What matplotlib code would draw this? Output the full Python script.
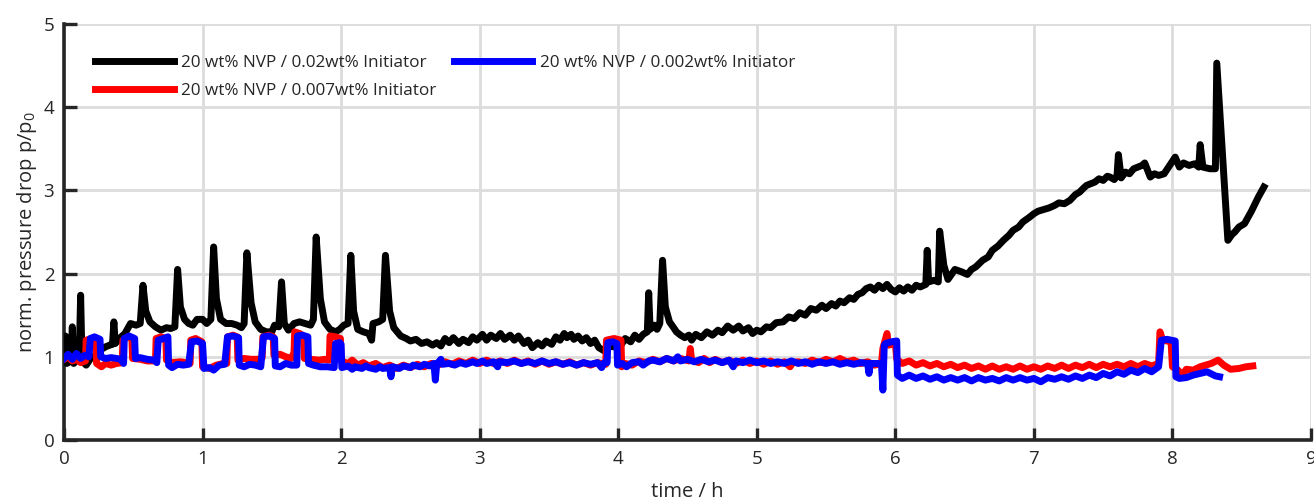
import matplotlib
matplotlib.use("Agg")
import matplotlib.pyplot as plt

plt.rcParams['font.family'] = ['Open Sans', 'DejaVu Sans']
plt.rcParams['mathtext.default'] = 'regular'

# ---------------- data ----------------
black_t = [0.00, 0.01, 0.02, 0.05, 0.06, 0.07, 0.09, 0.11, 0.12, 0.13, 0.16, 0.20, 0.24, 0.26, 0.30,
           0.33, 0.35, 0.36, 0.37, 0.40, 0.44, 0.48, 0.52, 0.55, 0.57, 0.59, 0.62, 0.66, 0.70, 0.74,
           0.77, 0.80, 0.82, 0.84, 0.87, 0.90, 0.93, 0.96, 1.00, 1.03, 1.06, 1.08, 1.10, 1.13, 1.17,
           1.21, 1.25, 1.28, 1.30, 1.32, 1.35, 1.38, 1.42, 1.46, 1.50, 1.52, 1.55, 1.57, 1.59, 1.62,
           1.66, 1.70, 1.74, 1.78, 1.80, 1.82, 1.85, 1.88, 1.92, 1.96, 1.99, 2.02, 2.05, 2.07, 2.09,
           2.12, 2.16, 2.20, 2.22, 2.23, 2.27, 2.30, 2.32, 2.35, 2.38, 2.43, 2.47, 2.50, 2.54, 2.58,
           2.62, 2.66, 2.69, 2.72, 2.75, 2.78, 2.81, 2.85, 2.88, 2.92, 2.95, 2.98, 3.02, 3.05, 3.08,
           3.12, 3.15, 3.18, 3.22, 3.25, 3.28, 3.32, 3.35, 3.38, 3.42, 3.45, 3.48, 3.52, 3.55, 3.58,
           3.61, 3.63, 3.66, 3.68, 3.71, 3.74, 3.77, 3.80, 3.83, 3.86, 3.90, 3.93, 3.96, 3.98, 4.02,
           4.05, 4.09, 4.12, 4.15, 4.18, 4.21, 4.22, 4.23, 4.26, 4.28, 4.30, 4.32, 4.34, 4.37, 4.40,
           4.42, 4.45, 4.48, 4.51, 4.53, 4.56, 4.60, 4.64, 4.68, 4.72, 4.75, 4.79, 4.83, 4.87, 4.90,
           4.94, 4.97, 5.00, 5.03, 5.07, 5.10, 5.14, 5.19, 5.23, 5.27, 5.31, 5.35, 5.39, 5.43, 5.47,
           5.50, 5.54, 5.57, 5.60, 5.63, 5.67, 5.70, 5.73, 5.76, 5.79, 5.82, 5.85, 5.88, 5.91, 5.94,
           5.97, 6.00, 6.03, 6.06, 6.09, 6.12, 6.15, 6.18, 6.22, 6.23, 6.24, 6.28, 6.31, 6.32, 6.35,
           6.38, 6.43, 6.48, 6.52, 6.55, 6.58, 6.63, 6.67, 6.70, 6.74, 6.78, 6.82, 6.85, 6.89, 6.92,
           6.97, 7.00, 7.03, 7.07, 7.11, 7.15, 7.18, 7.22, 7.26, 7.30, 7.33, 7.36, 7.38, 7.41, 7.44,
           7.47, 7.50, 7.53, 7.55, 7.58, 7.60, 7.61, 7.63, 7.66, 7.69, 7.72, 7.75, 7.78, 7.80, 7.84,
           7.87, 7.90, 7.94, 7.98, 8.02, 8.05, 8.08, 8.12, 8.16, 8.19, 8.20, 8.22, 8.27, 8.31, 8.32,
           8.40, 8.43, 8.45, 8.48, 8.52, 8.57, 8.62, 8.66]
black_v = [0.95, 1.25, 0.92, 0.95, 1.36, 0.92, 0.96, 1.00, 1.74, 0.95, 0.90, 1.00, 1.02, 1.08, 1.12,
           1.14, 1.15, 1.42, 1.16, 1.22, 1.28, 1.40, 1.38, 1.40, 1.86, 1.55, 1.42, 1.36, 1.32, 1.35,
           1.34, 1.36, 2.05, 1.60, 1.45, 1.40, 1.38, 1.45, 1.45, 1.40, 1.45, 2.32, 1.70, 1.45, 1.40,
           1.40, 1.38, 1.35, 1.40, 2.25, 1.65, 1.42, 1.33, 1.30, 1.30, 1.38, 1.36, 1.90, 1.40, 1.32,
           1.40, 1.42, 1.40, 1.38, 1.45, 2.44, 1.70, 1.42, 1.33, 1.30, 1.33, 1.38, 1.40, 2.22, 1.55,
           1.33, 1.30, 1.28, 1.20, 1.40, 1.42, 1.45, 2.22, 1.55, 1.35, 1.25, 1.22, 1.19, 1.21, 1.16,
           1.18, 1.14, 1.17, 1.13, 1.22, 1.17, 1.23, 1.16, 1.21, 1.17, 1.24, 1.20, 1.27, 1.20, 1.26,
           1.22, 1.28, 1.21, 1.26, 1.20, 1.25, 1.16, 1.20, 1.11, 1.17, 1.13, 1.19, 1.15, 1.24, 1.20,
           1.28, 1.23, 1.27, 1.21, 1.25, 1.19, 1.23, 1.16, 1.20, 1.11, 1.07, 1.16, 1.12, 1.17, 1.14,
           1.22, 1.18, 1.26, 1.21, 1.27, 1.30, 1.77, 1.33, 1.38, 1.33, 1.40, 2.16, 1.60, 1.42, 1.35,
           1.30, 1.26, 1.23, 1.26, 1.20, 1.27, 1.23, 1.30, 1.26, 1.32, 1.29, 1.37, 1.32, 1.37, 1.31,
           1.35, 1.28, 1.32, 1.30, 1.36, 1.35, 1.41, 1.42, 1.48, 1.46, 1.53, 1.50, 1.58, 1.56, 1.62,
           1.58, 1.64, 1.61, 1.67, 1.65, 1.71, 1.69, 1.75, 1.77, 1.82, 1.84, 1.80, 1.86, 1.82, 1.87,
           1.81, 1.78, 1.83, 1.79, 1.84, 1.80, 1.86, 1.84, 1.87, 2.28, 1.90, 1.92, 1.90, 2.51, 2.10,
           1.93, 2.05, 2.02, 1.99, 2.05, 2.08, 2.16, 2.20, 2.28, 2.33, 2.40, 2.46, 2.52, 2.56, 2.62,
           2.68, 2.72, 2.75, 2.77, 2.79, 2.82, 2.85, 2.84, 2.88, 2.95, 2.98, 3.03, 3.06, 3.08, 3.10,
           3.14, 3.12, 3.17, 3.16, 3.13, 3.18, 3.43, 3.15, 3.22, 3.20, 3.26, 3.28, 3.30, 3.33, 3.16,
           3.20, 3.18, 3.20, 3.30, 3.40, 3.28, 3.33, 3.30, 3.32, 3.28, 3.55, 3.28, 3.26, 3.26, 4.53,
           2.40, 2.47, 2.50, 2.56, 2.60, 2.75, 2.92, 3.04]

# (time, value) pairs
red_pts = [(0.00, 0.97), (0.03, 1.00), (0.06, 0.95), (0.09, 0.97), (0.12, 0.93), (0.155, 0.95),
           (0.16, 1.20), (0.20, 1.22), (0.23, 1.20), (0.235, 0.92), (0.27, 0.88), (0.30, 0.92),
           (0.34, 0.90), (0.38, 0.92), (0.42, 0.93), (0.425, 1.20), (0.46, 1.24), (0.49, 1.22),
           (0.495, 0.98), (0.55, 0.97), (0.60, 0.95), (0.66, 0.95), (0.665, 1.22), (0.70, 1.24),
           (0.735, 1.22), (0.74, 0.96), (0.78, 0.93), (0.84, 0.94), (0.88, 0.93), (0.91, 0.92),
           (0.915, 1.20), (0.95, 1.22), (0.995, 1.18), (1.00, 0.88), (1.05, 0.86), (1.10, 0.90),
           (1.15, 0.92), (1.175, 0.92), (1.18, 1.24), (1.22, 1.26), (1.25, 1.24), (1.255, 0.96),
           (1.30, 0.98), (1.35, 0.97), (1.40, 0.97), (1.43, 0.99), (1.435, 1.24), (1.48, 1.26),
           (1.51, 1.24), (1.515, 1.02), (1.56, 1.03), (1.60, 1.00), (1.64, 0.98), (1.66, 1.05),
           (1.665, 1.30), (1.70, 1.28), (1.73, 1.25), (1.735, 0.98), (1.78, 0.97), (1.84, 0.96),
           (1.88, 0.97), (1.915, 0.96), (1.92, 1.25), (1.96, 1.24), (1.995, 1.22), (2.00, 0.95),
           (2.05, 0.92), (2.08, 0.96), (2.12, 0.90), (2.16, 0.93), (2.20, 0.89), (2.25, 0.92),
           (2.30, 0.87), (2.35, 0.90), (2.40, 0.86), (2.45, 0.90), (2.50, 0.87), (2.55, 0.91),
           (2.60, 0.88), (2.65, 0.92), (2.70, 0.90), (2.75, 0.94), (2.80, 0.91), (2.85, 0.95),
           (2.90, 0.92), (2.95, 0.96), (3.00, 0.92), (3.05, 0.96), (3.10, 0.92), (3.15, 0.95),
           (3.20, 0.92), (3.25, 0.96), (3.30, 0.92), (3.35, 0.95), (3.40, 0.91), (3.45, 0.95),
           (3.50, 0.91), (3.55, 0.94), (3.60, 0.91), (3.65, 0.94), (3.70, 0.90), (3.75, 0.93),
           (3.80, 0.90), (3.85, 0.93), (3.91, 0.91), (3.915, 1.20), (3.97, 1.22), (4.02, 1.20),
           (4.025, 0.88), (4.05, 0.92), (4.10, 0.90), (4.15, 0.95), (4.20, 0.93), (4.25, 0.97),
           (4.30, 0.94), (4.35, 0.98), (4.40, 0.95), (4.45, 0.98), (4.51, 0.95), (4.52, 1.10),
           (4.53, 0.96), (4.58, 0.93), (4.62, 0.98), (4.66, 0.93), (4.70, 0.97), (4.75, 0.93),
           (4.80, 0.96), (4.85, 0.92), (4.90, 0.96), (4.95, 0.92), (5.00, 0.95), (5.05, 0.91),
           (5.10, 0.95), (5.15, 0.91), (5.20, 0.94), (5.24, 0.88), (5.26, 0.93), (5.30, 0.94),
           (5.35, 0.92), (5.40, 0.96), (5.45, 0.93), (5.50, 0.97), (5.55, 0.94), (5.60, 0.98),
           (5.65, 0.94), (5.70, 0.96), (5.75, 0.92), (5.80, 0.94), (5.85, 0.90), (5.90, 0.92),
           (5.91, 1.10), (5.94, 1.28), (5.95, 1.14), (6.00, 1.16), (6.01, 0.97), (6.05, 0.92),
           (6.10, 0.95), (6.15, 0.90), (6.20, 0.93), (6.25, 0.89), (6.30, 0.92), (6.35, 0.88),
           (6.40, 0.91), (6.45, 0.87), (6.50, 0.90), (6.55, 0.86), (6.60, 0.89), (6.65, 0.85),
           (6.70, 0.89), (6.75, 0.85), (6.80, 0.88), (6.85, 0.85), (6.90, 0.89), (6.95, 0.85),
           (7.00, 0.88), (7.05, 0.85), (7.10, 0.89), (7.15, 0.86), (7.20, 0.90), (7.25, 0.86),
           (7.30, 0.90), (7.35, 0.87), (7.40, 0.91), (7.45, 0.87), (7.50, 0.91), (7.55, 0.88),
           (7.60, 0.91), (7.65, 0.88), (7.70, 0.92), (7.75, 0.88), (7.80, 0.92), (7.85, 0.89),
           (7.90, 0.92), (7.91, 1.30), (7.93, 1.20), (7.99, 1.18), (8.00, 0.88), (8.04, 0.84),
           (8.07, 0.78), (8.10, 0.85), (8.15, 0.84), (8.20, 0.88), (8.28, 0.92), (8.33, 0.96),
           (8.37, 0.90), (8.42, 0.85), (8.48, 0.86), (8.53, 0.88), (8.58, 0.89)]

blue_pts = [(0.00, 0.98), (0.03, 1.03), (0.06, 0.97), (0.09, 1.04), (0.12, 0.98), (0.15, 1.02),
            (0.18, 1.00), (0.19, 1.22), (0.22, 1.24), (0.26, 1.21), (0.265, 1.00), (0.30, 0.98),
            (0.34, 0.99), (0.38, 0.98), (0.41, 0.97), (0.43, 0.92), (0.435, 1.22), (0.47, 1.25),
            (0.51, 1.22), (0.515, 0.98), (0.55, 0.99), (0.60, 0.97), (0.65, 0.96), (0.67, 0.93),
            (0.68, 1.20), (0.72, 1.22), (0.75, 1.24), (0.755, 0.90), (0.78, 0.87), (0.82, 0.91),
            (0.86, 0.90), (0.90, 0.91), (0.92, 1.18), (0.96, 1.19), (1.00, 1.16), (1.01, 0.86),
            (1.05, 0.87), (1.08, 0.84), (1.12, 0.90), (1.16, 0.91), (1.18, 1.24), (1.22, 1.25),
            (1.26, 1.23), (1.265, 0.90), (1.30, 0.88), (1.34, 0.91), (1.38, 0.90), (1.42, 0.88),
            (1.44, 1.24), (1.48, 1.25), (1.52, 1.22), (1.525, 0.89), (1.56, 0.88), (1.60, 0.92),
            (1.64, 0.90), (1.68, 0.90), (1.685, 1.25), (1.72, 1.26), (1.76, 1.24), (1.765, 0.92),
            (1.80, 0.90), (1.85, 0.88), (1.90, 0.88), (1.95, 0.87), (1.96, 1.16), (1.99, 1.17),
            (2.00, 1.15), (2.005, 0.87), (2.05, 0.89), (2.08, 0.85), (2.10, 0.88), (2.15, 0.86),
            (2.18, 0.89), (2.20, 0.87), (2.25, 0.85), (2.28, 0.88), (2.30, 0.86), (2.35, 0.87),
            (2.36, 0.76), (2.37, 0.88), (2.42, 0.86), (2.45, 0.89), (2.50, 0.87), (2.52, 0.90),
            (2.57, 0.88), (2.60, 0.91), (2.64, 0.89), (2.67, 0.92), (2.68, 0.72), (2.69, 0.91),
            (2.72, 0.97), (2.73, 0.91), (2.78, 0.92), (2.82, 0.90), (2.86, 0.93), (2.90, 0.91),
            (2.95, 0.94), (2.98, 0.92), (3.02, 0.95), (3.05, 0.92), (3.10, 0.94), (3.13, 0.88),
            (3.14, 0.94), (3.20, 0.93), (3.25, 0.95), (3.30, 0.92), (3.35, 0.94), (3.40, 0.92),
            (3.45, 0.95), (3.50, 0.92), (3.55, 0.94), (3.60, 0.91), (3.65, 0.93), (3.70, 0.90),
            (3.75, 0.93), (3.80, 0.91), (3.85, 0.93), (3.88, 0.87), (3.90, 0.93), (3.92, 0.93),
            (3.925, 1.17), (3.96, 1.18), (3.99, 1.16), (3.995, 0.90), (4.03, 0.92), (4.06, 0.88),
            (4.10, 0.93), (4.15, 0.94), (4.18, 0.90), (4.22, 0.95), (4.25, 0.96), (4.30, 0.94),
            (4.35, 0.98), (4.40, 0.95), (4.43, 1.00), (4.45, 0.95), (4.50, 0.97), (4.55, 0.94),
            (4.60, 0.97), (4.65, 0.94), (4.70, 0.96), (4.75, 0.93), (4.80, 0.96), (4.83, 0.88),
            (4.85, 0.95), (4.90, 0.93), (4.95, 0.96), (5.00, 0.93), (5.05, 0.95), (5.10, 0.92),
            (5.15, 0.94), (5.20, 0.92), (5.25, 0.95), (5.30, 0.92), (5.35, 0.94), (5.40, 0.91),
            (5.45, 0.94), (5.50, 0.92), (5.55, 0.94), (5.60, 0.91), (5.65, 0.93), (5.70, 0.91),
            (5.75, 0.93), (5.80, 0.92), (5.81, 0.80), (5.82, 0.92), (5.88, 0.92), (5.90, 0.91),
            (5.91, 0.60), (5.92, 1.14), (5.93, 1.16), (5.97, 1.18), (6.01, 1.19), (6.015, 0.78),
            (6.05, 0.74), (6.10, 0.78), (6.15, 0.74), (6.20, 0.77), (6.25, 0.73), (6.30, 0.76),
            (6.35, 0.72), (6.40, 0.75), (6.45, 0.72), (6.50, 0.75), (6.55, 0.71), (6.60, 0.75),
            (6.65, 0.72), (6.70, 0.74), (6.75, 0.71), (6.80, 0.75), (6.85, 0.72), (6.90, 0.75),
            (6.95, 0.72), (7.00, 0.74), (7.05, 0.70), (7.10, 0.75), (7.15, 0.73), (7.20, 0.76),
            (7.25, 0.73), (7.30, 0.77), (7.35, 0.74), (7.40, 0.78), (7.45, 0.75), (7.50, 0.80),
            (7.55, 0.77), (7.60, 0.82), (7.65, 0.79), (7.70, 0.84), (7.75, 0.81), (7.80, 0.86),
            (7.85, 0.82), (7.90, 0.88), (7.92, 1.20), (7.96, 1.21), (8.02, 1.19), (8.025, 0.76),
            (8.05, 0.74), (8.10, 0.75), (8.15, 0.78), (8.20, 0.80), (8.25, 0.82), (8.31, 0.77),
            (8.34, 0.76)]

red_t = [p[0] for p in red_pts]
red_v = [p[1] for p in red_pts]
blue_t = [p[0] for p in blue_pts]
blue_v = [p[1] for p in blue_pts]

labels = ['20 wt% NVP / 0.02wt% Initiator',
          '20 wt% NVP / 0.007wt% Initiator',
          '20 wt% NVP / 0.002wt% Initiator']
colors = ['#000000', '#ff0000', '#0000ff']
xticks = [0, 1, 2, 3, 4, 5, 6, 7, 8, 9]
yticks = [0, 1, 2, 3, 4, 5]

# ---------------- figure ----------------
W, H = 1314, 499
fig = plt.figure(figsize=(W / 100, H / 100), dpi=100)
ax = fig.add_axes([64 / W, 1 - 440 / H, (1311 - 64) / W, (440 - 24) / H])

dark = '#262626'
ax.plot(black_t, black_v, color=colors[0], lw=5.0, label=labels[0], solid_joinstyle='round', zorder=3)
ax.plot(red_t, red_v, color=colors[1], lw=5.0, label=labels[1], solid_joinstyle='round', zorder=3)
ax.plot(blue_t, blue_v, color=colors[2], lw=5.0, label=labels[2], solid_joinstyle='round', zorder=4)

ax.set_xlim(0, 9)
ax.set_ylim(0, 5)
ax.set_xticks(xticks)
ax.set_yticks(yticks)
ax.grid(True, color='#dcdcdc', lw=2.0, zorder=0)
ax.set_axisbelow(True)

for s in ['top', 'right']:
    ax.spines[s].set_visible(False)
for s in ['left', 'bottom']:
    ax.spines[s].set_color(dark)
    ax.spines[s].set_linewidth(2.6)

ax.tick_params(direction='in', length=9, width=2.4, color=dark, labelcolor=dark,
               labelsize=13.5, pad=7)

ax.set_xlabel('time / h', fontsize=14.5, color=dark, labelpad=10)
ax.set_ylabel('norm. pressure drop p/p$_{0}$', fontsize=14.5, color=dark, labelpad=3)

leg = ax.legend(loc='upper left', bbox_to_anchor=(0.025, 0.925), ncol=2, frameon=False,
                fontsize=12.3, handlelength=4.6, handletextpad=0.45, columnspacing=1.0,
                labelspacing=0.7, borderpad=0, borderaxespad=0)
for t in leg.get_texts():
    t.set_color(dark)

fig.savefig('out.png', dpi=100)
